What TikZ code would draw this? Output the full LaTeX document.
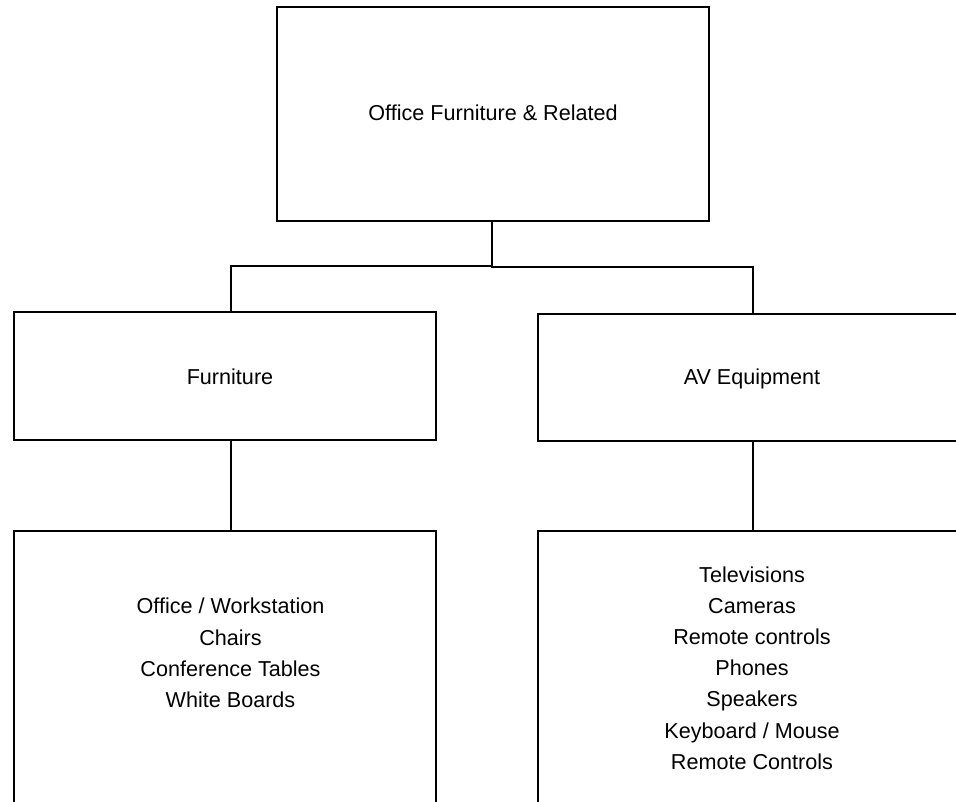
\documentclass[tikz,border=0pt]{standalone}
\usepackage{fontspec}
\setmainfont{Liberation Sans}
\begin{document}
\begin{tikzpicture}[x=0.75pt,y=-0.75pt,
  box/.style={draw=black,line width=1.9pt,rectangle,inner sep=0pt},
  lbl/.style={font=\fontsize{16.2}{23.4}\selectfont,align=center,inner sep=0pt},
  link/.style={draw=black,line width=1.9pt}]
\useasboundingbox (0,0) rectangle (956,802);
\fill[white] (0,0) rectangle (956,802);
\clip (0,0) rectangle (956,802);

% boxes (the right and bottom ones run past the page edge)
\node[box,minimum width=432*0.75pt,minimum height=214*0.75pt] (top) at (493,114) {};
\node[box,minimum width=422*0.75pt,minimum height=128*0.75pt] (fur) at (225,376) {};
\node[box,minimum width=430*0.75pt,minimum height=127*0.75pt] (av) at (753,377.5) {};
\node[box,minimum width=422*0.75pt,minimum height=300*0.75pt] (furl) at (225,681) {};
\node[box,minimum width=430*0.75pt,minimum height=300*0.75pt] (avl) at (753,681) {};

% labels
\node[lbl] (ttop) at (493,113) {Office Furniture \& Related};
\node[lbl] (tfur) at (230,376.5) {Furniture};
\node[lbl] (tav) at (752,378.5) {AV Equipment};
\node[lbl] (tfurl) at (230.5,653) {Office / Workstation\\Chairs\\Conference Tables\\White Boards};
\node[lbl] (tavl) at (752,668) {Televisions\\Cameras\\Remote controls\\Phones\\Speakers\\Keyboard / Mouse\\Remote Controls};

% connectors
\coordinate (j) at (492,266);
\draw[link] (top.south -| j) -- (j);
\draw[link] (j) -| ([xshift=4.5pt]fur.north);
\draw[link] (j) -- ++(0,1) -| (av.north);
\draw[link] ([xshift=4.5pt]fur.south) -- ([xshift=4.5pt]furl.north);
\draw[link] (av.south) -- (avl.north);
\end{tikzpicture}
\end{document}
